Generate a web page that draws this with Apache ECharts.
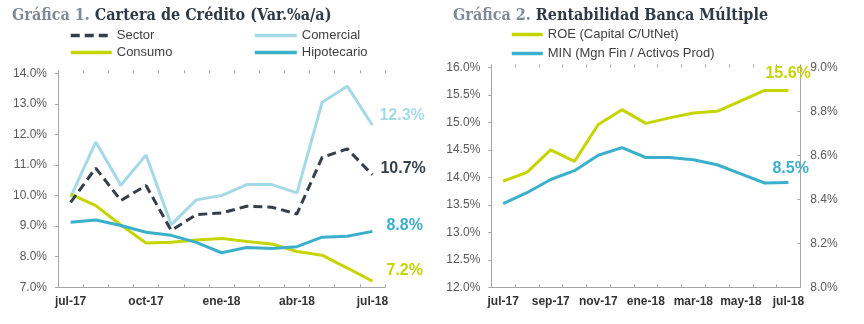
<!DOCTYPE html>
<html>
<head>
<meta charset="utf-8">
<script src="https://cdn.jsdelivr.net/npm/echarts@6/dist/echarts.min.js"></script>
<style>
  html, body { margin: 0; padding: 0; background: #fff; }
  #chart { width: 864px; height: 324px; }
</style>
</head>
<body>
<div id="chart"></div>
<script>
// Gráfica 1: cartera de crédito, variación % anual
const months1 = ['jul-17','ago-17','sep-17','oct-17','nov-17','dic-17','ene-18','feb-18','mar-18','abr-18','may-18','jun-18','jul-18'];
const sector      = [9.78, 10.90, 9.84, 10.33, 8.86, 9.38, 9.43, 9.65, 9.62, 9.40, 11.25, 11.53, 10.68];
const comercial   = [9.95, 11.75, 10.34, 11.33, 9.05, 9.86, 10.00, 10.36, 10.36, 10.09, 13.05, 13.58, 12.30];
const consumo     = [10.05, 9.67, 9.04, 8.45, 8.47, 8.55, 8.60, 8.50, 8.42, 8.17, 8.05, 7.63, 7.20];
const hipotecario = [9.13, 9.20, 9.02, 8.80, 8.70, 8.47, 8.13, 8.30, 8.27, 8.33, 8.64, 8.67, 8.83];

// Gráfica 2: rentabilidad de la banca múltiple
const months2 = ['jul-17','ago-17','sep-17','oct-17','nov-17','dic-17','ene-18','feb-18','mar-18','abr-18','may-18','jun-18','jul-18'];
const roe = [13.93, 14.09, 14.50, 14.29, 14.96, 15.23, 14.98, 15.08, 15.17, 15.20, 15.39, 15.58, 15.58];
const min = [8.38, 8.43, 8.49, 8.53, 8.60, 8.635, 8.59, 8.59, 8.58, 8.557, 8.516, 8.474, 8.476];

const C_SECTOR = '#343f49';
const C_COMERCIAL = '#a6d9e6';
const C_CONSUMO = '#c5d500';
const C_HIPOTECARIO = '#3bb0cb';
const AXIS_GRAY = '#a6a6a6';
const SANS = 'Liberation Sans, Arial, sans-serif';
const SLAB = "'DejaVu Serif Condensed', 'DejaVu Serif', serif";

const pct = v => v.toFixed(1) + '%';

function yAxis(gridIndex, min, max, interval, extra) {
  return Object.assign({
    type: 'value', gridIndex, min, max, interval,
    axisLine: { show: true, lineStyle: { color: AXIS_GRAY, width: 1 } },
    axisTick: { show: true, length: 3, lineStyle: { color: AXIS_GRAY } },
    splitLine: { show: false },
    axisLabel: { formatter: pct, color: '#595959', fontSize: 12, fontFamily: SANS, margin: 11 }
  }, extra || {});
}

// Category axis; ticks cross the axis line, so a second label-less axis
// draws the outer half of each tick.
function xAxis(gridIndex, data, interval, inside, withLabels) {
  return {
    type: 'category', gridIndex, data, boundaryGap: true,
    axisLine: { show: withLabels, lineStyle: { color: AXIS_GRAY, width: 1 } },
    axisTick: { show: true, inside, length: 3, interval: 0, lineStyle: { color: AXIS_GRAY } },
    axisLabel: { show: withLabels, interval, color: '#333', fontWeight: 'bold', fontSize: 12, fontFamily: SANS, margin: 8 }
  };
}

function lineSeries(name, data, color, xi, yi, offset, dashed) {
  return {
    name, type: 'line', data, xAxisIndex: xi, yAxisIndex: yi,
    symbol: 'none', smooth: false,
    lineStyle: { color, width: 3, type: dashed ? [9, 5] : 'solid', cap: 'butt' },
    itemStyle: { color },
    endLabel: {
      show: true, distance: 0, offset,
      formatter: p => pct(p.value),
      color, fontSize: 16, fontWeight: 'bold', fontFamily: SANS
    },
    animation: false
  };
}

const legendText = { color: '#404040', fontSize: 13, fontFamily: SANS };
const legendBase = {
  orient: 'vertical', itemHeight: 14, padding: 0,
  textStyle: legendText,
  itemStyle: { color: 'rgba(0,0,0,0)', borderWidth: 0 },
  lineStyle: { width: 3.5 }
};

const titleRich = {
  a: { color: '#7e8b96', fontFamily: SLAB, fontWeight: 'bold', fontSize: 16 },
  b: { color: '#2e3a45', fontFamily: SLAB, fontWeight: 'bold', fontSize: 16 }
};

const option = {
  backgroundColor: '#fff',
  animation: false,
  title: [
    { left: 7, top: 2, text: '{a|Gráfica 1.} {b|Cartera de Crédito (Var.%a/a)}', textStyle: { rich: titleRich } },
    { left: 448, top: 2, text: '{a|Gráfica 2.} {b|Rentabilidad Banca Múltiple}', textStyle: { rich: titleRich } }
  ],
  legend: [
    Object.assign({}, legendBase, { data: ['Sector', 'Consumo'], left: 69, top: 29, itemWidth: 41, itemGap: 4 }),
    Object.assign({}, legendBase, { data: ['Comercial', 'Hipotecario'], left: 253, top: 29, itemWidth: 42, itemGap: 4 }),
    Object.assign({}, legendBase, { data: ['ROE (Capital C/UtNet)', 'MIN (Mgn Fin / Activos Prod)'], left: 510, top: 28, itemWidth: 31, itemGap: 6 })
  ],
  grid: [
    { left: 58, top: 73.3, width: 327, height: 214 },
    { left: 491.3, top: 67.3, width: 309, height: 220 }
  ],
  xAxis: [
    xAxis(0, months1, 2, true, true),
    xAxis(1, months2, 1, true, true),
    xAxis(0, months1, 2, false, false),
    xAxis(1, months2, 1, false, false)
  ],
  yAxis: [
    yAxis(0, 7, 14, 1),
    yAxis(1, 12, 16, 0.5),
    yAxis(1, 8, 9, 0.2, {
      position: 'right',
      axisTick: { show: true, inside: true, length: 3, lineStyle: { color: AXIS_GRAY } },
      axisLabel: { formatter: pct, color: '#595959', fontSize: 12, fontFamily: SANS, margin: 10 }
    })
  ],
  series: [
    lineSeries('Comercial', comercial, C_COMERCIAL, 0, 0, [7, -10]),
    lineSeries('Consumo', consumo, C_CONSUMO, 0, 0, [14, -11]),
    lineSeries('Hipotecario', hipotecario, C_HIPOTECARIO, 0, 0, [14, -6]),
    lineSeries('Sector', sector, C_SECTOR, 0, 0, [8, -6], true),
    lineSeries('ROE (Capital C/UtNet)', roe, C_CONSUMO, 1, 1, [-23, -17]),
    lineSeries('MIN (Mgn Fin / Activos Prod)', min, C_HIPOTECARIO, 1, 2, [-16, -14])
  ]
};

const chart = echarts.init(document.getElementById('chart'), null, { renderer: 'canvas' });
chart.setOption(option);
</script>
</body>
</html>
